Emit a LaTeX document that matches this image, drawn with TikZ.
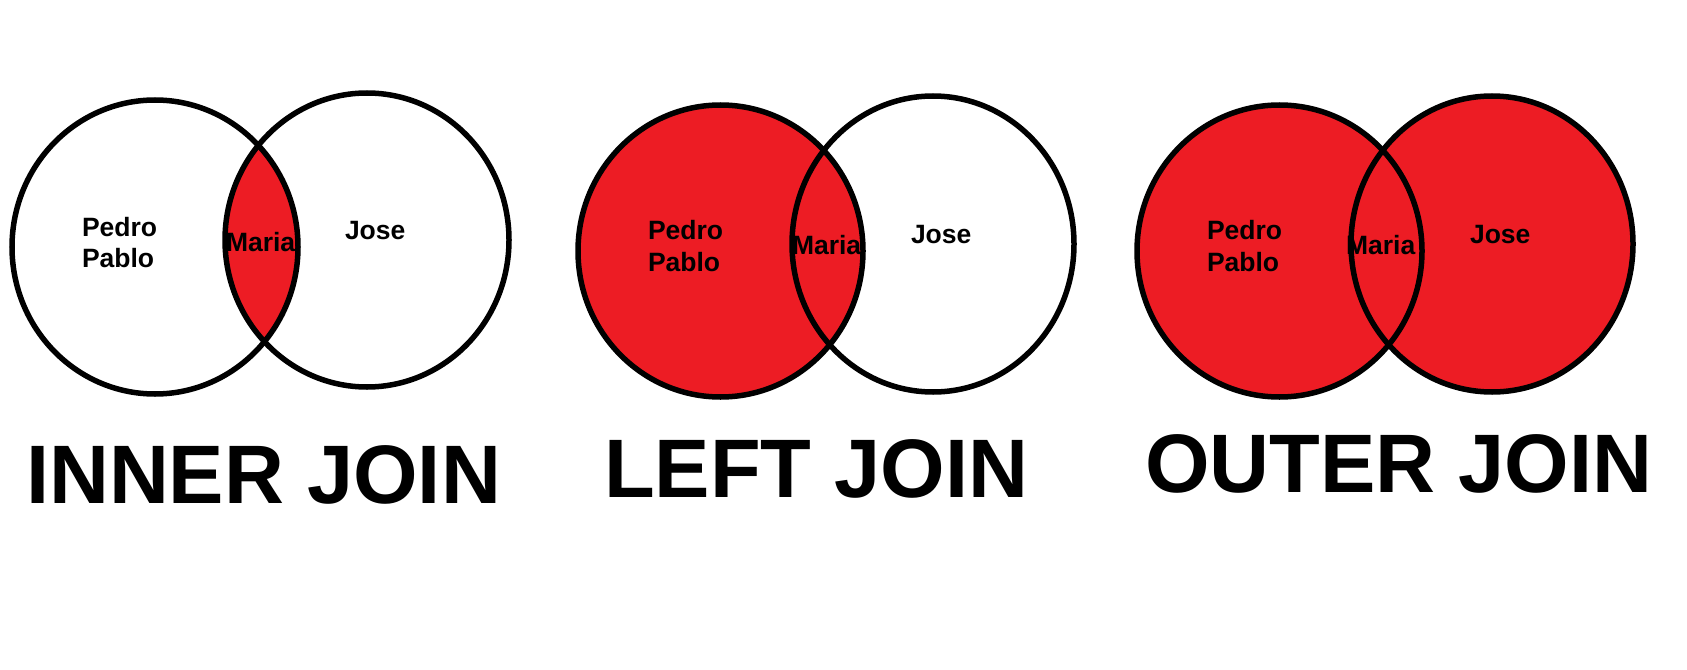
\documentclass[tikz,border=0pt]{standalone}
\usepackage{fontspec}
\setmainfont{Liberation Sans}
\definecolor{paintred}{RGB}{237,28,36}
\begin{document}
\begin{tikzpicture}[x=1bp,y=-1bp,
  ring/.style={draw=black,line width=5.5bp},
  lbl/.style={anchor=base west,inner sep=0pt,outer sep=0pt,font=\fontsize{26.5bp}{31bp}\selectfont\bfseries},
  ttl/.style={anchor=base west,inner sep=0pt,outer sep=0pt,font=\fontsize{83bp}{90bp}\selectfont\bfseries}]
\useasboundingbox (0,0) rectangle (1687,670);
\fill[white] (0,0) rectangle (1687,670);
% ---------- INNER JOIN ----------
\coordinate (iL) at (155,247);
\coordinate (iR) at (367,240);
\begin{scope}
  \clip (iL) ellipse [x radius=143, y radius=147];
  \fill[paintred] (iR) ellipse [x radius=142, y radius=147];
\end{scope}
\draw[ring] (iL) ellipse [x radius=143, y radius=147];
\draw[ring] (iR) ellipse [x radius=142, y radius=147];
\node[lbl] (iPedro) at (82,236) {Pedro};
\node[lbl] (iPablo) at (82,267) {Pablo};
\node[lbl] (iMaria) at (226,251) {Maria};
\node[lbl] (iJose) at (345,239) {Jose};
\node[ttl] (iTitle) at (26,503) {INNER JOIN};
% ---------- LEFT JOIN ----------
\coordinate (lL) at (720.5,251);
\coordinate (lR) at (933,244);
\fill[paintred] (lL) ellipse [x radius=142.5, y radius=146];
\draw[ring] (lL) ellipse [x radius=142.5, y radius=146];
\draw[ring] (lR) ellipse [x radius=141, y radius=148];
\node[lbl] (lPedro) at (648,239) {Pedro};
\node[lbl] (lPablo) at (648,271) {Pablo};
\node[lbl] (lMaria) at (792,254) {Maria};
\node[lbl] (lJose) at (911,243) {Jose};
\node[ttl] (lTitle) at (604,497) {LEFT JOIN};
% ---------- OUTER JOIN ----------
\coordinate (oL) at (1279.5,251);
\coordinate (oR) at (1492,244);
\fill[paintred] (oL) ellipse [x radius=142.5, y radius=146];
\fill[paintred] (oR) ellipse [x radius=141, y radius=148];
\draw[ring] (oL) ellipse [x radius=142.5, y radius=146];
\draw[ring] (oR) ellipse [x radius=141, y radius=148];
\node[lbl] (oPedro) at (1207,239) {Pedro};
\node[lbl] (oPablo) at (1207,271) {Pablo};
\node[lbl] (oMaria) at (1346,254) {Maria};
\node[lbl] (oJose) at (1470,243) {Jose};
\node[ttl] (oTitle) at (1145,492) {OUTER JOIN};
\end{tikzpicture}
\end{document}
